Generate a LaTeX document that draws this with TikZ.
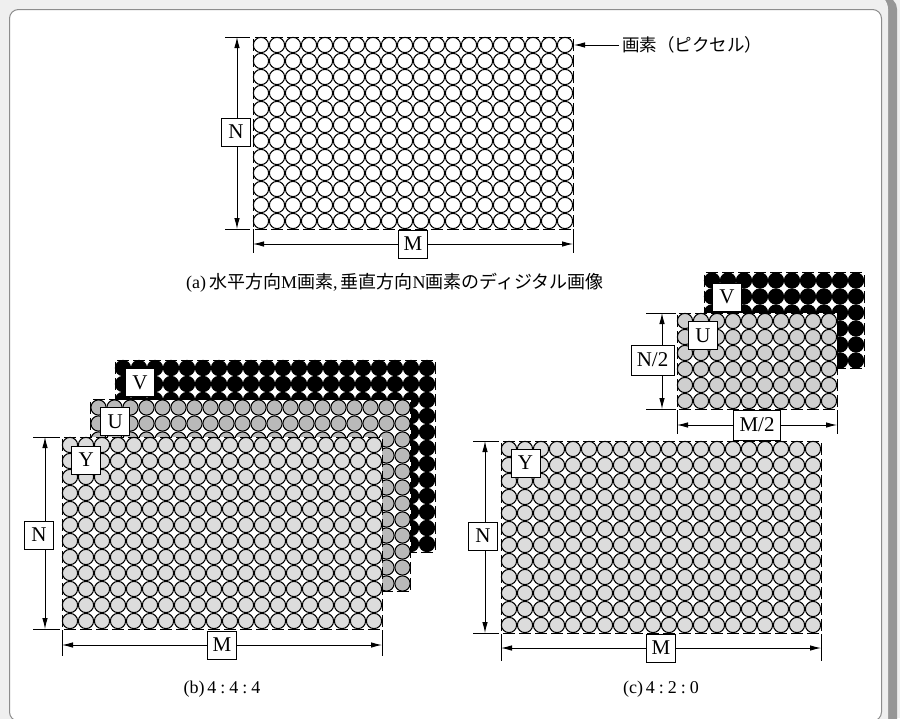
\documentclass[tikz,border=0pt]{standalone}
\usepackage{fontspec}
\setmainfont{Liberation Serif}
\newfontfamily\cjk{Noto Sans CJK JP}
\usetikzlibrary{arrows.meta}
\definecolor{pageBg}{HTML}{EFEFEF}
\definecolor{shadowGray}{HTML}{969696}
\definecolor{frameGray}{HTML}{8C8C8C}
\definecolor{Yg}{HTML}{DCDCDC}
\definecolor{Ub}{HTML}{B9B9B9}
\definecolor{Uc}{HTML}{CFCFCF}
\newcommand\pixgrid[5]{%
  \fill[white] (#1,#2) rectangle ({#1+16*#3},{#2+16*#4});
  \foreach \i in {1,...,#3}{\foreach \j in {1,...,#4}{%
    \draw[pix,fill=#5] ({#1+16*\i-8},{#2+16*\j-8}) circle[radius=7.6pt];}}
  \draw[gridborder] (#1,#2) rectangle ({#1+16*#3},{#2+16*#4});
}
\begin{document}
\begin{tikzpicture}[x=1pt,y=-1pt,
  pix/.style={line width=1.05pt, draw=black},
  gridborder/.style={draw=black, line width=1pt, dash pattern=on 12pt off 4pt, dash phase=14pt},
  lbl/.style={draw=black, fill=white, line width=0.9pt, minimum width=29pt, minimum height=28pt, inner sep=0pt, font=\fontsize{21}{21}\selectfont},
  dimline/.style={line width=0.9pt, {Latex[length=11pt,width=5.5pt]}-{Latex[length=11pt,width=5.5pt]}},
  extline/.style={line width=0.9pt},
  captxt/.style={font=\fontsize{18}{19}\selectfont, inner sep=0pt},
]
\useasboundingbox (0,0) rectangle (900,718);
% frame
\fill[pageBg] (0,0) rectangle (900,718);
\fill[shadowGray, rounded corners=12pt] (20,-3) rectangle (897,760);
\fill[pageBg, rounded corners=15pt] (-30,-6) rectangle (888,760);
\filldraw[fill=white, draw=frameGray, line width=1pt, rounded corners=9pt] (9.5,9.5) rectangle (881.5,721);

% ---------- (a) ----------
\pixgrid{253}{37}{20}{12}{white}
\coordinate (aNt) at (237,37);   \coordinate (aNb) at (237,229);
\coordinate (aNtl) at (225,37);  \coordinate (aNtr) at (250,37);
\coordinate (aNbl) at (225,229); \coordinate (aNbr) at (250,229);
\draw[extline] (aNtl) -- (aNtr);
\draw[extline] (aNbl) -- (aNbr);
\draw[dimline] (aNt) -- (aNb);
\node[lbl] (aN) at (236,132) {N};
\coordinate (aMl) at (253,244);  \coordinate (aMr) at (573,244);
\coordinate (aMlt) at (253,229); \coordinate (aMlb) at (253,253);
\coordinate (aMrt) at (573,229); \coordinate (aMrb) at (573,253);
\draw[extline] (aMlt) -- (aMlb);
\draw[extline] (aMrt) -- (aMrb);
\draw[dimline] (aMl) -- (aMr);
\node[lbl] (aM) at (413,244) {M};
\coordinate (pxTip) at (574,45);
\node[anchor=west, inner sep=3pt, font=\fontsize{17.5}{18}\selectfont] (pxLbl) at (619,45) {\cjk 画素（ピクセル）};
\draw[line width=0.9pt, -{Latex[length=11pt,width=5.5pt]}] (pxLbl.west) -- (pxTip);
\node[captxt] (capA) at (395,283) {(a)\,{\cjk 水平方向}M{\cjk 画素},\,{\cjk 垂直方向}N{\cjk 画素のディジタル画像}};

% ---------- (b) ----------
\pixgrid{115}{360}{20}{12}{black}
\pixgrid{90.5}{399.5}{20}{12}{Ub}
\pixgrid{62}{437}{20}{12}{Yg}
\node[lbl] (bV) at (140,382.5) {V};
\node[lbl] (bU) at (115.3,421.5) {U};
\node[lbl] (bY) at (86.2,460) {Y};
\coordinate (bNt) at (45,437);  \coordinate (bNb) at (45,629);
\coordinate (bNtl) at (33,437); \coordinate (bNtr) at (60,437);
\coordinate (bNbl) at (33,629); \coordinate (bNbr) at (60,629);
\draw[extline] (bNtl) -- (bNtr);
\draw[extline] (bNbl) -- (bNbr);
\draw[dimline] (bNt) -- (bNb);
\node[lbl] (bN) at (39,535) {N};
\coordinate (bMl) at (62,645);  \coordinate (bMr) at (382,645);
\coordinate (bMlt) at (62,630); \coordinate (bMlb) at (62,656);
\coordinate (bMrt) at (382,630); \coordinate (bMrb) at (382,656);
\draw[extline] (bMlt) -- (bMlb);
\draw[extline] (bMrt) -- (bMrb);
\draw[dimline] (bMl) -- (bMr);
\node[lbl] (bM) at (222,645) {M};
\node[captxt] (capB) at (222,689) {(b)\,4\hspace{4pt}:\hspace{4pt}4\hspace{4pt}:\hspace{4pt}4};

% ---------- (c) ----------
\pixgrid{704}{272.5}{10}{6}{black}
\pixgrid{677}{313}{10}{6}{Uc}
\pixgrid{501}{441}{20}{12}{Yg}
\node[lbl] (cV) at (727,297) {V};
\node[lbl] (cU) at (703,335.5) {U};
\node[lbl] (cY) at (525.5,463) {Y};
\coordinate (cNt) at (485,441);  \coordinate (cNb) at (485,633);
\coordinate (cNtl) at (473,441); \coordinate (cNtr) at (499,441);
\coordinate (cNbl) at (473,633); \coordinate (cNbr) at (499,633);
\draw[extline] (cNtl) -- (cNtr);
\draw[extline] (cNbl) -- (cNbr);
\draw[dimline] (cNt) -- (cNb);
\node[lbl] (cN) at (483,536) {N};
\coordinate (cMl) at (501,648);  \coordinate (cMr) at (821,648);
\coordinate (cMlt) at (501,634); \coordinate (cMlb) at (501,661);
\coordinate (cMrt) at (821,634); \coordinate (cMrb) at (821,661);
\draw[extline] (cMlt) -- (cMlb);
\draw[extline] (cMrt) -- (cMrb);
\draw[dimline] (cMl) -- (cMr);
\node[lbl] (cM) at (661,648) {M};
\coordinate (chNt) at (662,313);  \coordinate (chNb) at (662,409);
\coordinate (chNtl) at (646,313); \coordinate (chNtr) at (676,313);
\coordinate (chNbl) at (646,409); \coordinate (chNbr) at (676,409);
\draw[extline] (chNtl) -- (chNtr);
\draw[extline] (chNbl) -- (chNbr);
\draw[dimline] (chNt) -- (chNb);
\node[lbl, minimum width=43pt, minimum height=30pt] (chN) at (652.5,360) {N/2};
\coordinate (chMl) at (677,425);  \coordinate (chMr) at (837,425);
\coordinate (chMlt) at (677,410); \coordinate (chMlb) at (677,434);
\coordinate (chMrt) at (837,410); \coordinate (chMrb) at (837,434);
\draw[extline] (chMlt) -- (chMlb);
\draw[extline] (chMrt) -- (chMrb);
\draw[dimline] (chMl) -- (chMr);
\node[lbl, minimum width=47pt, minimum height=30pt] (chM) at (757,425) {M/2};
\node[captxt] (capC) at (661,689) {(c)\,4\hspace{4pt}:\hspace{4pt}2\hspace{4pt}:\hspace{4pt}0};
\end{tikzpicture}
\end{document}
